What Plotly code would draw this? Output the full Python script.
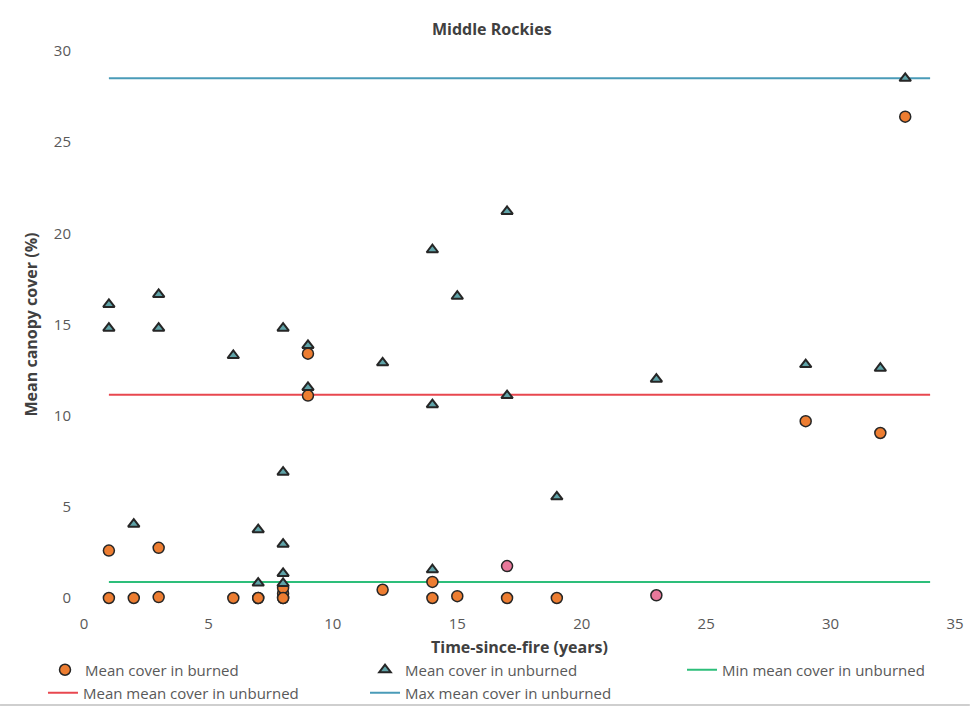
import plotly.graph_objects as go

# Time since fire (years) and mean canopy cover (%) in burned plots
burned_years = [1, 1, 2, 3, 3, 6, 7, 7, 8, 8, 8, 8, 9, 9, 12, 14, 14, 15, 17, 17, 19, 23, 29, 32, 33]
burned_cover = [2.6, 0.0, 0.0, 2.75, 0.05, 0.0, 0.0, 0.0, 0.0, 0.25, 0.55, 0.0, 13.4, 11.1,
                0.45, 0.88, 0.0, 0.1, 1.75, 0.0, 0.0, 0.15, 9.7, 9.05, 26.4]
burned_kind = ["a"] * 18 + ["b", "a", "a", "b", "a", "a", "a"]

# Time since fire (years) and mean canopy cover (%) in unburned plots
unburned_years = [1, 1, 2, 3, 3, 6, 7, 7, 8, 8, 8, 8, 8, 9, 9, 12, 14, 14, 14, 15, 17, 17,
                  19, 23, 29, 32, 33]
unburned_cover = [16.1, 14.8, 4.05, 16.65, 14.8, 13.3, 3.75, 0.82, 14.8, 6.9, 2.95, 1.35, 0.8,
                  13.85, 11.55, 12.9, 19.1, 10.6, 1.55, 16.55, 21.2, 11.1, 5.55, 12.0, 12.8,
                  12.6, 28.5]

# Summary lines for unburned cover
summary_span = [1, 34]
min_unburned = 0.88
mean_unburned = 11.15
max_unburned = 28.5

x_ticks = [0, 5, 10, 15, 20, 25, 30, 35]
y_ticks = [0, 5, 10, 15, 20, 25, 30]

FONT = "Open Sans"
GRAY = "#595959"
DARK = "#404040"

kind_colors = {"a": "#ED7D31", "b": "#E8789A"}

fig = go.Figure()

fig.add_trace(go.Scatter(
    x=summary_span, y=[max_unburned] * 2, mode="lines",
    name="Max mean cover in unburned", line=dict(color="#4A9BB8", width=2),
    legend="legend5", hoverinfo="skip"))
fig.add_trace(go.Scatter(
    x=summary_span, y=[mean_unburned] * 2, mode="lines",
    name="Mean mean cover in unburned", line=dict(color="#E8474F", width=2),
    legend="legend4", hoverinfo="skip"))
fig.add_trace(go.Scatter(
    x=summary_span, y=[min_unburned] * 2, mode="lines",
    name="Min mean cover in unburned", line=dict(color="#2DBE7A", width=2),
    legend="legend3", hoverinfo="skip"))

fig.add_trace(go.Scatter(
    x=burned_years, y=burned_cover, mode="markers", name="Mean cover in burned",
    marker=dict(symbol="circle", size=11,
                color=[kind_colors[k] for k in burned_kind],
                line=dict(color="#262626", width=1.5)),
    cliponaxis=False, legend="legend"))
fig.add_trace(go.Scatter(
    x=unburned_years, y=unburned_cover, mode="markers", name="Mean cover in unburned",
    marker=dict(symbol="triangle-up", size=10, color="#5FA3A8",
                line=dict(color="#262626", width=2)),
    cliponaxis=False, legend="legend2"))

legend_common = dict(orientation="h", xanchor="left", yanchor="middle",
                     xref="container", yref="container",
                     bgcolor="rgba(0,0,0,0)", font=dict(family=FONT, size=15, color=GRAY),
                     traceorder="normal")

fig.update_layout(
    width=970, height=709,
    margin=dict(l=84, r=15, t=51, b=111),
    paper_bgcolor="white", plot_bgcolor="white",
    showlegend=True,
    title=dict(text="<b>Middle Rockies</b>", x=0.507, xref="container", xanchor="center",
               y=0.958, yanchor="middle",
               font=dict(family=FONT, size=16, color=DARK)),
    xaxis=dict(range=[0, 35], tickvals=x_ticks, showgrid=False, zeroline=False,
               showline=False, ticks="", ticklabelstandoff=15, automargin=False,
               tickfont=dict(family=FONT, size=15, color=GRAY)),
    yaxis=dict(range=[0, 30], tickvals=y_ticks, showgrid=False, zeroline=False,
               showline=False, ticks="", ticklabelstandoff=12, automargin=False,
               tickfont=dict(family=FONT, size=15, color=GRAY),
               title=dict(text="<b>Mean canopy cover (%)</b>", standoff=12,
                          font=dict(family=FONT, size=16, color=DARK))),
    annotations=[dict(text="<b>Time-since-fire (years)</b>", xref="paper", yref="paper",
                      x=0.5, y=-0.0896, xanchor="center", yanchor="middle",
                      showarrow=False, font=dict(family=FONT, size=16, color=DARK))],
    legend=dict(x=0.0464, y=0.055, **legend_common),
    legend2=dict(x=0.3763, y=0.055, **legend_common),
    legend3=dict(x=0.7031, y=0.055, **legend_common),
    legend4=dict(x=0.0443, y=0.0226, **legend_common),
    legend5=dict(x=0.3763, y=0.0226, **legend_common),
    shapes=[dict(type="line", xref="paper", yref="paper",
                 x0=-0.0964, x1=1.017, y0=-0.1956, y1=-0.1956,
                 line=dict(color="#BFBFBF", width=1.5))],
)

fig.write_html("out.html")
